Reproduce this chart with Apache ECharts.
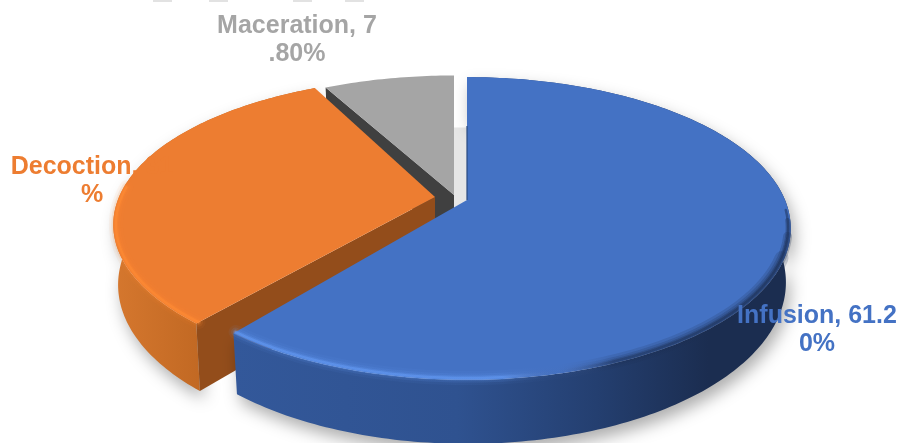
<!DOCTYPE html>
<html>
<head>
<meta charset="utf-8">
<style>html,body{margin:0;background:#fff}#main{width:900px;height:443px}</style>
<script src="https://cdn.jsdelivr.net/npm/echarts@6/dist/echarts.min.js"></script>
</head>
<body>
<div id="main"></div>
<script>
const categories = ['Infusion', 'Decoction', 'Maceration']
const shares = [61.2, 31, 7.8]
const labels = ['Infusion, 61.2\n0%', 'Decoction, 31\n%', 'Maceration, 7\n.80%']
const colors = ['#4472C4', '#ED7D31', '#A5A5A5']

// apex of each exploded slice, in screen pixels
const APEX = [[467, 200], [435, 197], [454, 195]]
const LABEL_POS = [[817, 330], [92, 181], [297, 40]]
const RX = [318, 316, 318]
const RY = [146, 142, 142]
const DEPTH = [52, 58, 52]
// small perspective correction of the drawn edges, degrees
const EDGE_SHIFT = [[0, -1.5], [0, 1.7], [0, 0]]
const PERSP = 0.188

const STEP = Math.PI / 180

// projects a pie angle (clockwise from north) onto the tilted plane
const project = (i, a, r = 1) => {
  const X = Math.sin(a) * r
  const Y = -Math.cos(a) * r
  const s = 1 / (1 - PERSP * Y)
  return [APEX[i][0] + RX[i] * X * s, APEX[i][1] + RY[i] * Y * s]
}

// the same point moved down to the bottom face
const lower = (i, p) => {
  const s = (p[1] - APEX[i][1]) / RY[i] * PERSP + 1
  return [APEX[i][0] + (p[0] - APEX[i][0]) * 0.985, p[1] + DEPTH[i] * s]
}

const arc = (i, a0, a1, r = 1) => {
  const pts = []
  const n = Math.ceil(Math.abs(a1 - a0) / STEP)
  for (let k = 0; k <= n; k++) pts.push(project(i, a0 + (a1 - a0) * k / n, r))
  return pts
}

const poly = (points, style, z2) => ({ type: 'polygon', z2, shape: { points }, style })
const line = (points, style, z2) => ({ type: 'polyline', z2, shape: { points }, style: { fill: null, ...style } })

const hGrad = (stops, x0, x1) => ({
  type: 'linear', global: true, x: x0, y: 0, x2: x1, y2: 0,
  colorStops: stops.map(([offset, color]) => ({ offset, color }))
})

const WALLS = [
  hGrad([[0, '#33589A'], [0.4, '#2F5290'], [0.65, '#243F70'], [0.85, '#1B2D50'], [1, '#1B2D50']], 234, 792),
  hGrad([[0, '#D5772E'], [1, '#BF6722']], 115, 210)
]
const CUTS = [null, '#934D1B', '#404040']

// soft bevel: wide faint strokes under narrow strong ones
const BEVEL = [
  { width: 14, light: 0.06, dark: 0.2 },
  { width: 9, light: 0.12, dark: 0.25 },
  { width: 5, light: 0.25, dark: 0.35 },
  { width: 2.5, light: 0.55, dark: 0.5 }
]
const bevelStroke = (i, { light, dark }) => i === 1
  ? `rgba(255,140,53,${light})`
  : hGrad([
    [0, `rgba(100,155,245,${light})`],
    [0.48, `rgba(100,155,245,${light})`],
    [0.58, 'rgba(80,110,170,0.02)'],
    [0.68, `rgba(27,45,80,${dark * 0.7})`],
    [1, `rgba(27,45,80,${dark})`]
  ], 234, 792)

const renderSlice = (params, api) => {
  const i = params.dataIndex
  const before = shares.slice(0, i).reduce((a, b) => a + b, 0)
  const a0 = (before / 100 * 360 + EDGE_SHIFT[i][0]) * STEP
  const a1 = ((before + api.value(1)) / 100 * 360 + EDGE_SHIFT[i][1]) * STEP
  const apex = APEX[i]
  const rim = arc(i, a0, a1)
  const low = rim.map(p => lower(i, p))
  const base = (2 - i) * 100
  const kids = []

  // outer wall, grey one stays hidden behind the top face
  if (i < 2) {
    kids.push(poly(rim.concat(low.slice().reverse()), {
      fill: WALLS[i], shadowBlur: 16, shadowOffsetX: 4, shadowOffsetY: 8,
      shadowColor: 'rgba(0,0,0,0.32)'
    }, base + 1))
  }

  // cut face on the side that looks at the viewer
  if (CUTS[i]) {
    const apexLow = lower(i, apex)
    kids.push(poly([apex, rim[0], low[0], apexLow], { fill: CUTS[i] }, base + 2))
  }

  // floor shadow of the grey slice, shows in the gap next to the blue one
  if (i === 2) {
    kids.push(poly([apex].concat(rim).map(p => [p[0] + 13, p[1] + 52]), { fill: '#E6E6E6' }, 0))
  }

  // top face
  kids.push(poly([apex].concat(rim), { fill: colors[i] }, base + 4))

  // bevel along the front edge, a bit inside the rim; wider strokes start lower so it tapers
  if (i < 2) {
    const inner = arc(i, a0, a1, 0.992)
    BEVEL.forEach((b, k) => {
      const from = apex[1] + (i === 0 ? b.width * 4 : -10)
      const front = inner.filter(p => p[1] > from)
      kids.push(line(front, { stroke: bevelStroke(i, b), lineWidth: b.width, lineCap: 'round' }, base + 5 + k))
    })
  }

  // dark thin edge of the blue slice along the gap
  if (i === 0) {
    const mid = [apex[0], apex[1] - 74]
    kids.push(line([mid, apex], { stroke: '#2B4A80', lineWidth: 1.2 }, base + 5))
  }

  kids.push({
    type: 'text', z2: 1000,
    style: {
      x: LABEL_POS[i][0], y: LABEL_POS[i][1], text: labels[i], align: 'center', verticalAlign: 'middle',
      fill: colors[i], font: 'bold 25px "Liberation Sans"', lineHeight: 28
    }
  })
  return { type: 'group', children: kids }
}

const chart = echarts.init(document.getElementById('main'), null, { renderer: 'canvas' })
chart.setOption({
  animation: false,
  backgroundColor: '#fff',
  xAxis: { show: false, min: 0, max: 2, type: 'value' },
  yAxis: { show: false, min: 0, max: 100, type: 'value' },
  grid: { left: 0, right: 0, top: 0, bottom: 0 },
  // bits of something cut off by the top edge of the picture
  graphic: [153, 209, 293, 345].map(x => ({
    type: 'rect', left: x, top: 0, shape: { width: 19, height: 2 }, style: { fill: '#E2E2E2' }
  })),
  series: [{
    type: 'custom',
    renderItem: renderSlice,
    clip: false,
    data: categories.map((name, i) => ({ name, value: [i, shares[i]] }))
  }]
})
</script>
</body>
</html>
